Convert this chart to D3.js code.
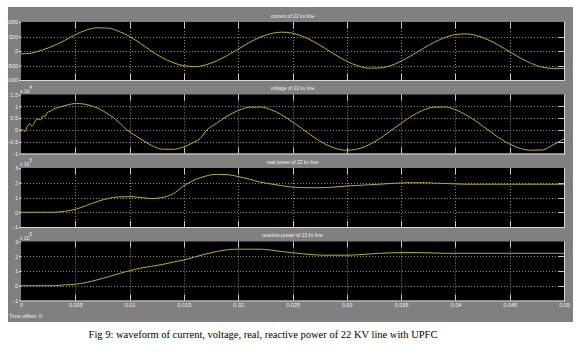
<!DOCTYPE html>
<html><head><meta charset="utf-8">
<script src="https://cdn.jsdelivr.net/npm/d3@7"></script>
<style>html,body{margin:0;padding:0;background:#fff;}svg{display:block;}</style>
</head><body>
<svg id="c" width="583" height="360"></svg>
<script>
// ---- data ----
const timeSteps = [0,0.001,0.002,0.003,0.004,0.005,0.006,0.007,0.008,0.009,0.010,0.011,0.012,0.013,0.014,0.015,0.016,0.017,0.018,0.019,0.020,0.021,0.022,0.023,0.024,0.025,0.026,0.027,0.028,0.029,0.030,0.031,0.032,0.033,0.034,0.035,0.036,0.037,0.038,0.039,0.040,0.041,0.042,0.043,0.044,0.045,0.046,0.047,0.048,0.049,0.050];
const currentValues = [-100,-70,40,180,360,560,720,800,790,680,500,260,0,-230,-400,-510,-540,-480,-340,-150,60,290,470,600,650,615,495,315,90,-145,-355,-510,-590,-585,-510,-350,-145,80,290,460,565,590,525,390,195,-30,-245,-430,-560,-600,-600];
const voltageTime = [0,0.0002,0.0004,0.0006,0.0008,0.001,0.0012,0.0014,0.0016,0.0018,0.002,0.0022,0.0024,0.0027,0.003,0.0036,0.0042,0.0051,0.006,0.007,0.0082,0.009,0.0097,0.0104,0.011,0.0116,0.0122,0.0131,0.014,0.015,0.0158,0.0165,0.017,0.018,0.019,0.020,0.021,0.022,0.023,0.024,0.025,0.026,0.027,0.028,0.029,0.030,0.031,0.032,0.033,0.034,0.035,0.036,0.037,0.038,0.039,0.040,0.041,0.042,0.043,0.044,0.045,0.046,0.047,0.048,0.049,0.050];
const voltageValues = [0.05,-0.04,-0.06,0.17,0.27,0.16,0.27,0.44,0.45,0.42,0.60,0.55,0.73,0.79,0.88,0.97,1.05,1.12,1.08,0.93,0.62,0.33,0.02,-0.2,-0.38,-0.55,-0.70,-0.82,-0.82,-0.72,-0.55,-0.36,-0.06,0.28,0.59,0.82,0.96,0.97,0.86,0.64,0.34,0.01,-0.32,-0.60,-0.79,-0.86,-0.81,-0.64,-0.38,-0.05,0.28,0.59,0.83,0.96,0.97,0.86,0.63,0.34,0.0,-0.33,-0.60,-0.79,-0.86,-0.85,-0.63,-0.39];
const realPowerValues = [0,0,0,0,0.06,0.2,0.45,0.72,0.93,1.04,1.06,1.0,0.93,1.0,1.25,1.8,2.2,2.45,2.57,2.55,2.42,2.25,2.05,1.92,1.8,1.7,1.67,1.66,1.67,1.72,1.78,1.82,1.86,1.9,1.95,1.99,2.0,2.0,1.98,1.95,1.92,1.9,1.9,1.9,1.9,1.9,1.9,1.9,1.9,1.9,1.9];
const reactivePowerValues = [0,0,0,0,0.06,0.1,0.22,0.4,0.6,0.82,1.02,1.19,1.32,1.44,1.6,1.75,1.95,2.15,2.32,2.44,2.48,2.48,2.48,2.42,2.32,2.24,2.16,2.1,2.07,2.07,2.07,2.1,2.15,2.2,2.23,2.25,2.25,2.24,2.22,2.2,2.2,2.2,2.2,2.2,2.2,2.2,2.2,2.2,2.2,2.2,2.2];
const panelTitles = ["current of 22 kv line","voltage of 22 kv line","real power of 22 kv line","reactive power of 22 kv line"];
const currentTicks = [-1000,-500,0,500,1000];
const voltageTicks = [-1,-0.5,0,0.5,1,1.5];
const powerTicks = [-1,0,1,2,3];
const timeTicks = [0,0.005,0.01,0.015,0.02,0.025,0.03,0.035,0.04,0.045,0.05];
const exponents = [null,"4","5","5"];
const caption = "Fig 9: waveform of current, voltage, real, reactive power of 22 KV line with UPFC";

// ---- drawing ----
const svg = d3.select('#c');
svg.append('rect').attr('x',8).attr('y',7).attr('width',565).attr('height',315).attr('fill','#808080');

const x = d3.scaleLinear().domain([0,0.05]).range([21,564]);
const tickFont = "'Liberation Sans', Arial, sans-serif";

const panels = [
  {top:22, h:58, domain:[-1000,1000], ticks:currentTicks, t:timeSteps, v:currentValues},
  {top:94.5, h:59, domain:[-1,1.5], ticks:voltageTicks, t:voltageTime, v:voltageValues},
  {top:168, h:59, domain:[-1,3], ticks:powerTicks, t:timeSteps, v:realPowerValues},
  {top:241.5, h:59, domain:[-1,3], ticks:powerTicks, t:timeSteps, v:reactivePowerValues}
];

panels.forEach((p,i) => {
  const y = d3.scaleLinear().domain(p.domain).range([p.top+p.h, p.top]);
  const g = svg.append('g');
  g.append('rect').attr('x',x(0)).attr('y',p.top).attr('width',x(0.05)-x(0)).attr('height',p.h).attr('fill','#000');
  // grid
  g.selectAll('.gx').data(timeTicks.slice(1,-1)).join('line')
    .attr('x1',d=>Math.round(x(d))+0.5).attr('x2',d=>Math.round(x(d))+0.5)
    .attr('y1',p.top).attr('y2',p.top+p.h)
    .attr('stroke','#8c8c8c').attr('stroke-width',1).attr('stroke-dasharray','1,2');
  g.selectAll('.gy').data(p.ticks.slice(1,-1)).join('line')
    .attr('x1',x(0)).attr('x2',x(0.05))
    .attr('y1',d=>Math.round(y(d))+0.5).attr('y2',d=>Math.round(y(d))+0.5)
    .attr('stroke','#8c8c8c').attr('stroke-width',1).attr('stroke-dasharray','1,2');
  // inside ticks (top/bottom/right)
  g.selectAll('.tt').data(timeTicks.slice(1,-1)).join('line')
    .attr('x1',d=>Math.round(x(d))+0.5).attr('x2',d=>Math.round(x(d))+0.5)
    .attr('y1',p.top).attr('y2',p.top+6).attr('stroke','#c8c8c8');
  g.selectAll('.tb').data(timeTicks.slice(1,-1)).join('line')
    .attr('x1',d=>Math.round(x(d))+0.5).attr('x2',d=>Math.round(x(d))+0.5)
    .attr('y1',p.top+p.h-6).attr('y2',p.top+p.h).attr('stroke','#c8c8c8');
  g.selectAll('.tr').data(p.ticks.slice(1,-1)).join('line')
    .attr('x1',x(0.05)-6).attr('x2',x(0.05))
    .attr('y1',d=>Math.round(y(d))+0.5).attr('y2',d=>Math.round(y(d))+0.5).attr('stroke','#c8c8c8');
  // data line
  const line = d3.line().x(d=>x(d[0])).y(d=>y(d[1])).curve(d3.curveMonotoneX);
  g.append('path').datum(p.t.map((t,k)=>[t,p.v[k]]))
    .attr('d',line).attr('fill','none').attr('stroke','#b8b800').attr('stroke-width',1);
  // border right/bottom
  g.append('line').attr('x1',x(0.05)+0.5).attr('x2',x(0.05)+0.5).attr('y1',p.top).attr('y2',p.top+p.h+1).attr('stroke','#d8d8d8');
  g.append('line').attr('x1',x(0)).attr('x2',x(0.05)+1).attr('y1',p.top+p.h+0.5).attr('y2',p.top+p.h+0.5).attr('stroke','#d8d8d8');
  // left axis
  const ax = d3.axisLeft(y).tickValues(p.ticks).tickSize(2).tickPadding(1).tickFormat(d3.format(''));
  const ag = g.append('g').attr('transform',`translate(${x(0)},0)`).call(ax);
  ag.select('.domain').remove();
  ag.selectAll('line').attr('stroke','#e0e0e0');
  ag.selectAll('text').attr('fill','#f0f0f0').style('font-family',tickFont).style('font-size','5.5px');
  // title
  g.append('text').attr('x',(x(0)+x(0.05))/2).attr('y',p.top-4.5).attr('text-anchor','middle')
    .attr('fill','#f0f0f0').style('font-family',tickFont).style('font-size','5px').text(panelTitles[i]);
  // exponent
  if (exponents[i]) {
    const e = g.append('text').attr('x',x(0)-1).attr('y',p.top-2).attr('fill','#f0f0f0')
      .style('font-family',tickFont).style('font-size','5px');
    e.append('tspan').text('x 10');
    e.append('tspan').attr('dy',-4).style('font-size','4.5px').text(exponents[i]);
  }
  if (i === 3) {
    const bx = d3.axisBottom(x).tickValues(timeTicks).tickSize(0).tickPadding(3).tickFormat(d3.format(''));
    const bg = g.append('g').attr('transform',`translate(0,${p.top+p.h})`).call(bx);
    bg.select('.domain').remove();
    bg.selectAll('text').attr('fill','#f0f0f0').style('font-family',tickFont).style('font-size','5.5px');
  }
});

svg.append('text').attr('x',9).attr('y',318).attr('fill','#f0f0f0')
  .style('font-family',tickFont).style('font-size','5.5px').text('Time offset:  0');

svg.append('text').attr('x',263).attr('y',338).attr('text-anchor','middle')
  .style('font-family',"'Liberation Serif','Times New Roman',serif").style('font-size','10.5px')
  .attr('fill','#000').text(caption);
</script>
</body></html>
